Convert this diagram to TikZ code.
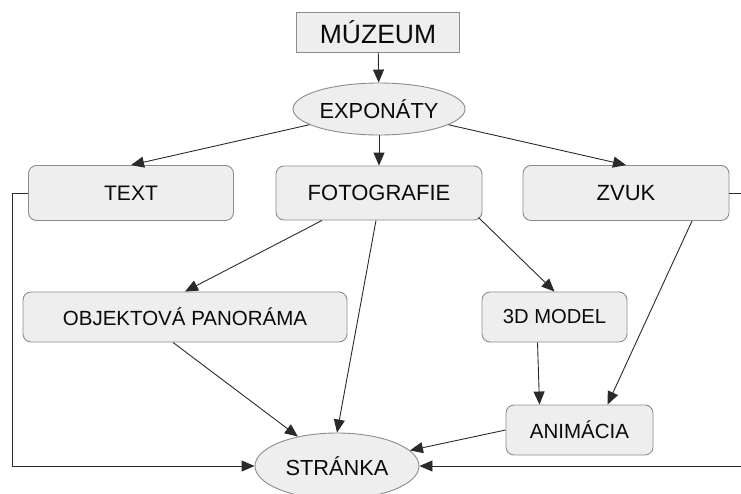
\documentclass[tikz,border=0pt]{standalone}
\usepackage{fontspec}
\setmainfont{Liberation Sans}
\usetikzlibrary{arrows.meta,shapes.geometric}
\definecolor{boxfill}{HTML}{EEEEEE}
\definecolor{boxline}{HTML}{8C8C8C}
\definecolor{wire}{HTML}{2A2A2A}
\definecolor{ink}{HTML}{0A0A0A}
\begin{document}
\begin{tikzpicture}[x=1pt,y=-1pt,
  box/.style={draw=boxline, fill=boxfill, rounded corners=8pt, inner sep=0pt, line width=0.9pt,
    font=\fontsize{21}{25}\selectfont, text=ink},
  oval/.style={ellipse, draw=boxline, fill=boxfill, inner sep=0pt, line width=0.9pt,
    font=\fontsize{21.8}{25}\selectfont, text=ink},
  conn/.style={draw=wire, line width=0.9pt, -{Triangle[length=13pt,width=11pt]}}
]
\useasboundingbox (0,0) rectangle (741,493);
\clip (0,0) rectangle (741,493);

\node[draw=boxline, fill=boxfill, inner sep=0pt, line width=0.9pt, minimum width=163pt, minimum height=40pt,
  font=\fontsize{26.5}{30}\selectfont, text=ink] (muz) at (378,32) {MÚZEUM};
\node[oval, minimum width=172pt, minimum height=52pt] (expo) at (379,109) {EXPONÁTY};

\node[box, minimum width=205pt, minimum height=55pt] (text) at (131,193) {TEXT};
\node[box, minimum width=206pt, minimum height=54pt, font=\fontsize{22}{25}\selectfont] (foto) at (379,193) {FOTOGRAFIE};
\node[box, minimum width=206pt, minimum height=55pt, font=\fontsize{22}{25}\selectfont] (zvuk) at (626,193) {ZVUK};

\node[box, minimum width=324pt, minimum height=50pt, font=\fontsize{20.5}{24}\selectfont] (obj) at (185,317) {OBJEKTOVÁ PANORÁMA};
\node[box, minimum width=145pt, minimum height=50pt, font=\fontsize{20.2}{24}\selectfont] (model) at (554.5,317) {3D MODEL};
\node[box, minimum width=147pt, minimum height=50pt, font=\fontsize{20.5}{24}\selectfont] (anim) at (579.5,430) {ANIMÁCIA};

\node[oval, minimum width=164pt, minimum height=66pt] (str) at (337,466) {STRÁNKA};

\draw[conn] (muz) -- (expo);
\draw[conn] (expo) -- (text.north);
\draw[conn] (expo) -- (foto.north);
\draw[conn] (expo) -- (zvuk.north);

\draw[conn] ([xshift=-57pt]foto.south) -- (obj.north);
\draw[conn] ([xshift=-3pt]foto.south) -- (str.north);
\draw[conn] ([xshift=-4pt,yshift=3pt]foto.south east) -- (model.north);

\draw[conn] ([xshift=66pt]zvuk.south) -- ([xshift=28pt]anim.north);
\draw[conn] ([xshift=-17pt]model.south) -- ([xshift=-40pt]anim.north);
\draw[conn] ([xshift=-12pt]obj.south) -- (str);
\draw[conn] (anim.west) -- (str);

\coordinate (lft) at (12,193);
\coordinate (rgt) at (746,193);
\draw[conn] (text.west) -- (lft) |- (str.west);
\draw[conn] (zvuk.east) -- (rgt) |- (str.east);
\end{tikzpicture}
\end{document}
